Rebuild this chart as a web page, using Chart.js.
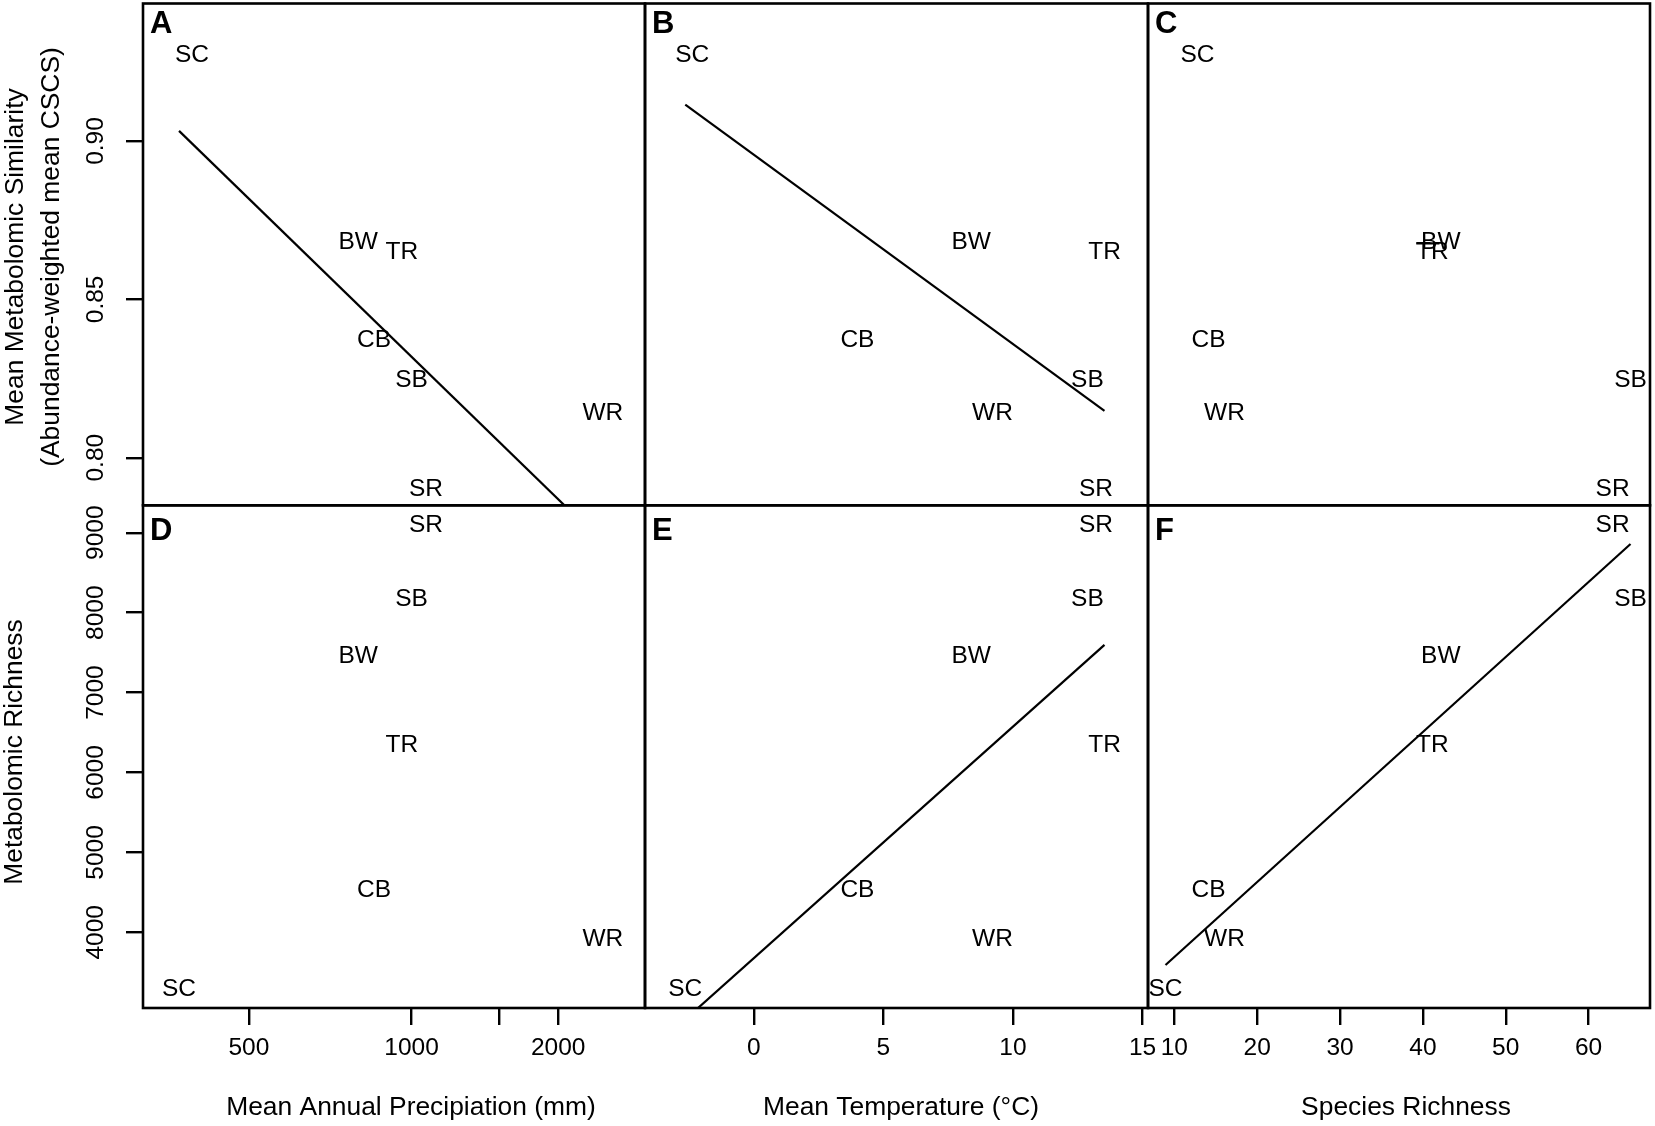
<!DOCTYPE html>
<html>
<head>
<meta charset="utf-8">
<script src="https://cdn.jsdelivr.net/npm/chart.js@4"></script>
<style>
  html, body { margin: 0; padding: 0; background: #fff; }
  #wrap { position: relative; width: 1655px; height: 1126px; }
  #wrap canvas { position: absolute; left: 0; top: 0; }
</style>
</head>
<body>
<div id="wrap"></div>
<script>
// site codes, same order in every array
const sites = ['SC', 'BW', 'TR', 'CB', 'SB', 'WR', 'SR'];

// x variables
const precipitation = [379, 790, 957, 847, 1000, 2508, 1067];
const temperature = [-2.64, 8.39, 13.53, 4.0, 12.87, 9.21, 13.2];
const speciesRichness = [8.94, 42.16, 41.14, 14.13, 65.06, 16.05, 62.9];

// y variables
const metabolomicSimilarity = [0.927, 0.868, 0.865, 0.837, 0.8245, 0.814, 0.790];
const metabolomicRichness = [3290, 7451, 6335, 4522, 8167, 3911, 9096];

// fitted lines (end points)
const fitA_x = [379, 2508], fitA_y = [0.9032, 0.7732];
const fitB_x = [-2.64, 13.53], fitB_y = [0.9115, 0.8148];
const fitC_x = [39.2, 42.0], fitC_y = [0.8677, 0.8677];
const fitE_x = [-2.64, 13.53], fitE_y = [2910, 7596];
const fitF_x = [8.94, 65.06], fitF_y = [3591, 8859];

// ticks
const precipTicks = [500, 1000, 1500, 2000];
const precipTickLabels = ['500', '1000', '', '2000'];
const tempTicks = [0, 5, 10, 15];
const tempTickLabels = ['0', '5', '10', '15'];
const richTicks = [10, 20, 30, 40, 50, 60];
const richTickLabels = ['10', '20', '30', '40', '50', '60'];
const simTicks = [0.80, 0.85, 0.90];
const simTickLabels = ['0.80', '0.85', '0.90'];
const metabTicks = [4000, 5000, 6000, 7000, 8000, 9000];
const metabTickLabels = ['4000', '5000', '6000', '7000', '8000', '9000'];

// axis limits
const precipRange = [330, 3129];
const tempRange = [-4.193, 15.208];
const richRange = [6.826, 67.41];
const simRange = [0.78497, 0.94343];
const metabRange = [3053, 9343];

// ---- layout / style ----
const W = 1655, H = 1126;
const cols = [143, 645, 1148, 1650];
const rows = [3.5, 505.3, 1008];
const FONT = '"Liberation Sans", Arial, Helvetica, sans-serif';
const PRECIP_EXP = -0.15;          // x axis of A/D is on a power (x^-0.15) scale
const topRowSCShift = [13, 7, 32]; // SC label nudged right in the top row
const letterBaseline = [33, 540];

class PowerScale extends Chart.LinearScale {
    tf(v) { return Math.pow(v, PRECIP_EXP) }
    getPixelForValue(v) {
        if (v === null || v === undefined || isNaN(v)) return NaN
        const a = this.tf(this.min), b = this.tf(this.max)
        return this.getPixelForDecimal((this.tf(v) - a) / (b - a))
    }
    getValueForPixel(p) {
        const a = this.tf(this.min), b = this.tf(this.max)
        return Math.pow(a + this.getDecimalForPixel(p) * (b - a), 1 / PRECIP_EXP)
    }
}
PowerScale.id = 'power'
Chart.register(PowerScale)

const siteLabelPlugin = {
    id: 'siteLabels',
    afterDatasetsDraw(chart) {
        const ctx = chart.ctx
        chart.data.datasets.forEach((ds, i) => {
            if (!ds.siteLabels) return
            const meta = chart.getDatasetMeta(i)
            ctx.save()
            ctx.font = '24.5px ' + FONT
            ctx.fillStyle = '#000'
            ctx.textAlign = 'center'
            ctx.textBaseline = 'middle'
            meta.data.forEach((pt, j) => {
                const dx = (ds.labelShift && ds.labelShift[j]) || 0
                ctx.fillText(ds.siteLabels[j], pt.x + dx, pt.y)
            })
            ctx.restore()
        })
    }
}

const framePlugin = {
    id: 'frame',
    afterDraw(chart, args, opts) {
        const a = chart.chartArea, ctx = chart.ctx
        ctx.save()
        ctx.strokeStyle = '#000'
        ctx.lineWidth = 2.6
        ctx.strokeRect(a.left, a.top, a.right - a.left, a.bottom - a.top)
        ctx.font = 'bold 31px ' + FONT
        ctx.fillStyle = '#000'
        ctx.textAlign = 'left'
        ctx.textBaseline = 'alphabetic'
        ctx.fillText(opts.letter, a.left + 7, opts.baseline)
        ctx.restore()
    }
}

const figureTexts = [
    { text: 'Mean Annual Precipiation (mm)', x: 411, y: 1108, rot: 0 },
    { text: 'Mean Temperature (°C)', x: 901, y: 1108, rot: 0 },
    { text: 'Species Richness', x: 1406, y: 1108, rot: 0 },
    { text: 'Mean Metabolomic Similarity', x: 16, y: 257, rot: -90 },
    { text: '(Abundance-weighted mean CSCS)', x: 52, y: 257, rot: -90 },
    { text: 'Metabolomic Richness', x: 15, y: 752, rot: -90 }
]
const figureTextPlugin = {
    id: 'figureText',
    afterDraw(chart) {
        const ctx = chart.ctx
        ctx.save()
        ctx.font = '26.4px ' + FONT
        ctx.fillStyle = '#000'
        ctx.textAlign = 'center'
        ctx.textBaseline = 'middle'
        figureTexts.forEach(t => {
            ctx.save()
            ctx.translate(t.x, t.y)
            ctx.rotate(t.rot * Math.PI / 180)
            ctx.fillText(t.text, 0, 0)
            ctx.restore()
        })
        ctx.restore()
    }
}

const panels = [
    { letter: 'A', col: 0, row: 0, xType: 'power', xs: precipitation, xRange: precipRange, xTicks: precipTicks, xLabels: precipTickLabels,
      ys: metabolomicSimilarity, yRange: simRange, yTicks: simTicks, yLabels: simTickLabels, fx: fitA_x, fy: fitA_y },
    { letter: 'B', col: 1, row: 0, xType: 'linear', xs: temperature, xRange: tempRange, xTicks: tempTicks, xLabels: tempTickLabels,
      ys: metabolomicSimilarity, yRange: simRange, yTicks: simTicks, yLabels: simTickLabels, fx: fitB_x, fy: fitB_y },
    { letter: 'C', col: 2, row: 0, xType: 'linear', xs: speciesRichness, xRange: richRange, xTicks: richTicks, xLabels: richTickLabels,
      ys: metabolomicSimilarity, yRange: simRange, yTicks: simTicks, yLabels: simTickLabels, fx: fitC_x, fy: fitC_y },
    { letter: 'D', col: 0, row: 1, xType: 'power', xs: precipitation, xRange: precipRange, xTicks: precipTicks, xLabels: precipTickLabels,
      ys: metabolomicRichness, yRange: metabRange, yTicks: metabTicks, yLabels: metabTickLabels, fx: null, fy: null },
    { letter: 'E', col: 1, row: 1, xType: 'linear', xs: temperature, xRange: tempRange, xTicks: tempTicks, xLabels: tempTickLabels,
      ys: metabolomicRichness, yRange: metabRange, yTicks: metabTicks, yLabels: metabTickLabels, fx: fitE_x, fy: fitE_y },
    { letter: 'F', col: 2, row: 1, xType: 'linear', xs: speciesRichness, xRange: richRange, xTicks: richTicks, xLabels: richTickLabels,
      ys: metabolomicRichness, yRange: metabRange, yTicks: metabTicks, yLabels: metabTickLabels, fx: fitF_x, fy: fitF_y }
]

const wrap = document.getElementById('wrap')

panels.forEach((p, k) => {
    const canvas = document.createElement('canvas')
    canvas.width = W
    canvas.height = H
    canvas.style.width = W + 'px'
    canvas.style.height = H + 'px'
    wrap.appendChild(canvas)

    const showX = p.row === 1
    const showY = p.col === 0

    const datasets = [{
        data: sites.map((s, i) => ({ x: p.xs[i], y: p.ys[i] })),
        siteLabels: sites,
        labelShift: sites.map(s => (p.row === 0 && s === 'SC') ? topRowSCShift[p.col] : 0),
        pointRadius: 0,
        pointHoverRadius: 0
    }]
    if (p.fx) {
        datasets.push({
            data: p.fx.map((x, i) => ({ x: x, y: p.fy[i] })),
            showLine: true,
            borderColor: '#000',
            borderWidth: 2.2,
            pointRadius: 0,
            pointHoverRadius: 0
        })
    }

    const tickFont = { family: FONT, size: 24.5 }
    const plugins = [siteLabelPlugin, framePlugin]
    if (k === 0) plugins.push(figureTextPlugin)

    new Chart(canvas.getContext('2d'), {
        type: 'scatter',
        data: { datasets: datasets },
        plugins: plugins,
        options: {
            responsive: false,
            animation: false,
            events: [],
            layout: {
                autoPadding: false,
                padding: {
                    left: showY ? 0 : cols[p.col],
                    right: W - cols[p.col + 1],
                    top: rows[p.row],
                    bottom: showX ? 0 : H - rows[p.row + 1]
                }
            },
            plugins: {
                legend: { display: false },
                tooltip: { enabled: false },
                frame: { letter: p.letter, baseline: letterBaseline[p.row] }
            },
            scales: {
                x: {
                    type: p.xType,
                    position: 'bottom',
                    display: showX,
                    bounds: 'data',
                    min: p.xRange[0],
                    max: p.xRange[1],
                    grid: { drawOnChartArea: false, drawTicks: true, tickLength: 17, color: '#000', lineWidth: 2.4 },
                    border: { display: false },
                    ticks: {
                        autoSkip: false, minRotation: 0, maxRotation: 0, padding: 9,
                        color: '#000', font: tickFont,
                        callback: (v, i) => p.xLabels[i]
                    },
                    afterBuildTicks: s => { s.ticks = p.xTicks.map(v => ({ value: v })) },
                    afterFit: s => {
                        if (!showX) return
                        s.height = H - rows[2]
                        s.paddingLeft = 0
                        s.paddingRight = 0
                    }
                },
                y: {
                    type: 'linear',
                    position: 'left',
                    display: showY,
                    bounds: 'data',
                    min: p.yRange[0],
                    max: p.yRange[1],
                    grid: { drawOnChartArea: false, drawTicks: true, tickLength: 17, color: '#000', lineWidth: 2.4 },
                    border: { display: false },
                    ticks: {
                        autoSkip: false, minRotation: 90, maxRotation: 90, crossAlign: 'center',
                        padding: p.row === 0 ? 6 : 2,
                        color: '#000', font: tickFont,
                        callback: (v, i) => p.yLabels[i]
                    },
                    afterBuildTicks: s => { s.ticks = p.yTicks.map(v => ({ value: v })) },
                    afterFit: s => {
                        if (!showY) return
                        s.width = cols[0]
                        s.paddingTop = 0
                        s.paddingBottom = 0
                    }
                }
            }
        }
    })
})
</script>
</body>
</html>
